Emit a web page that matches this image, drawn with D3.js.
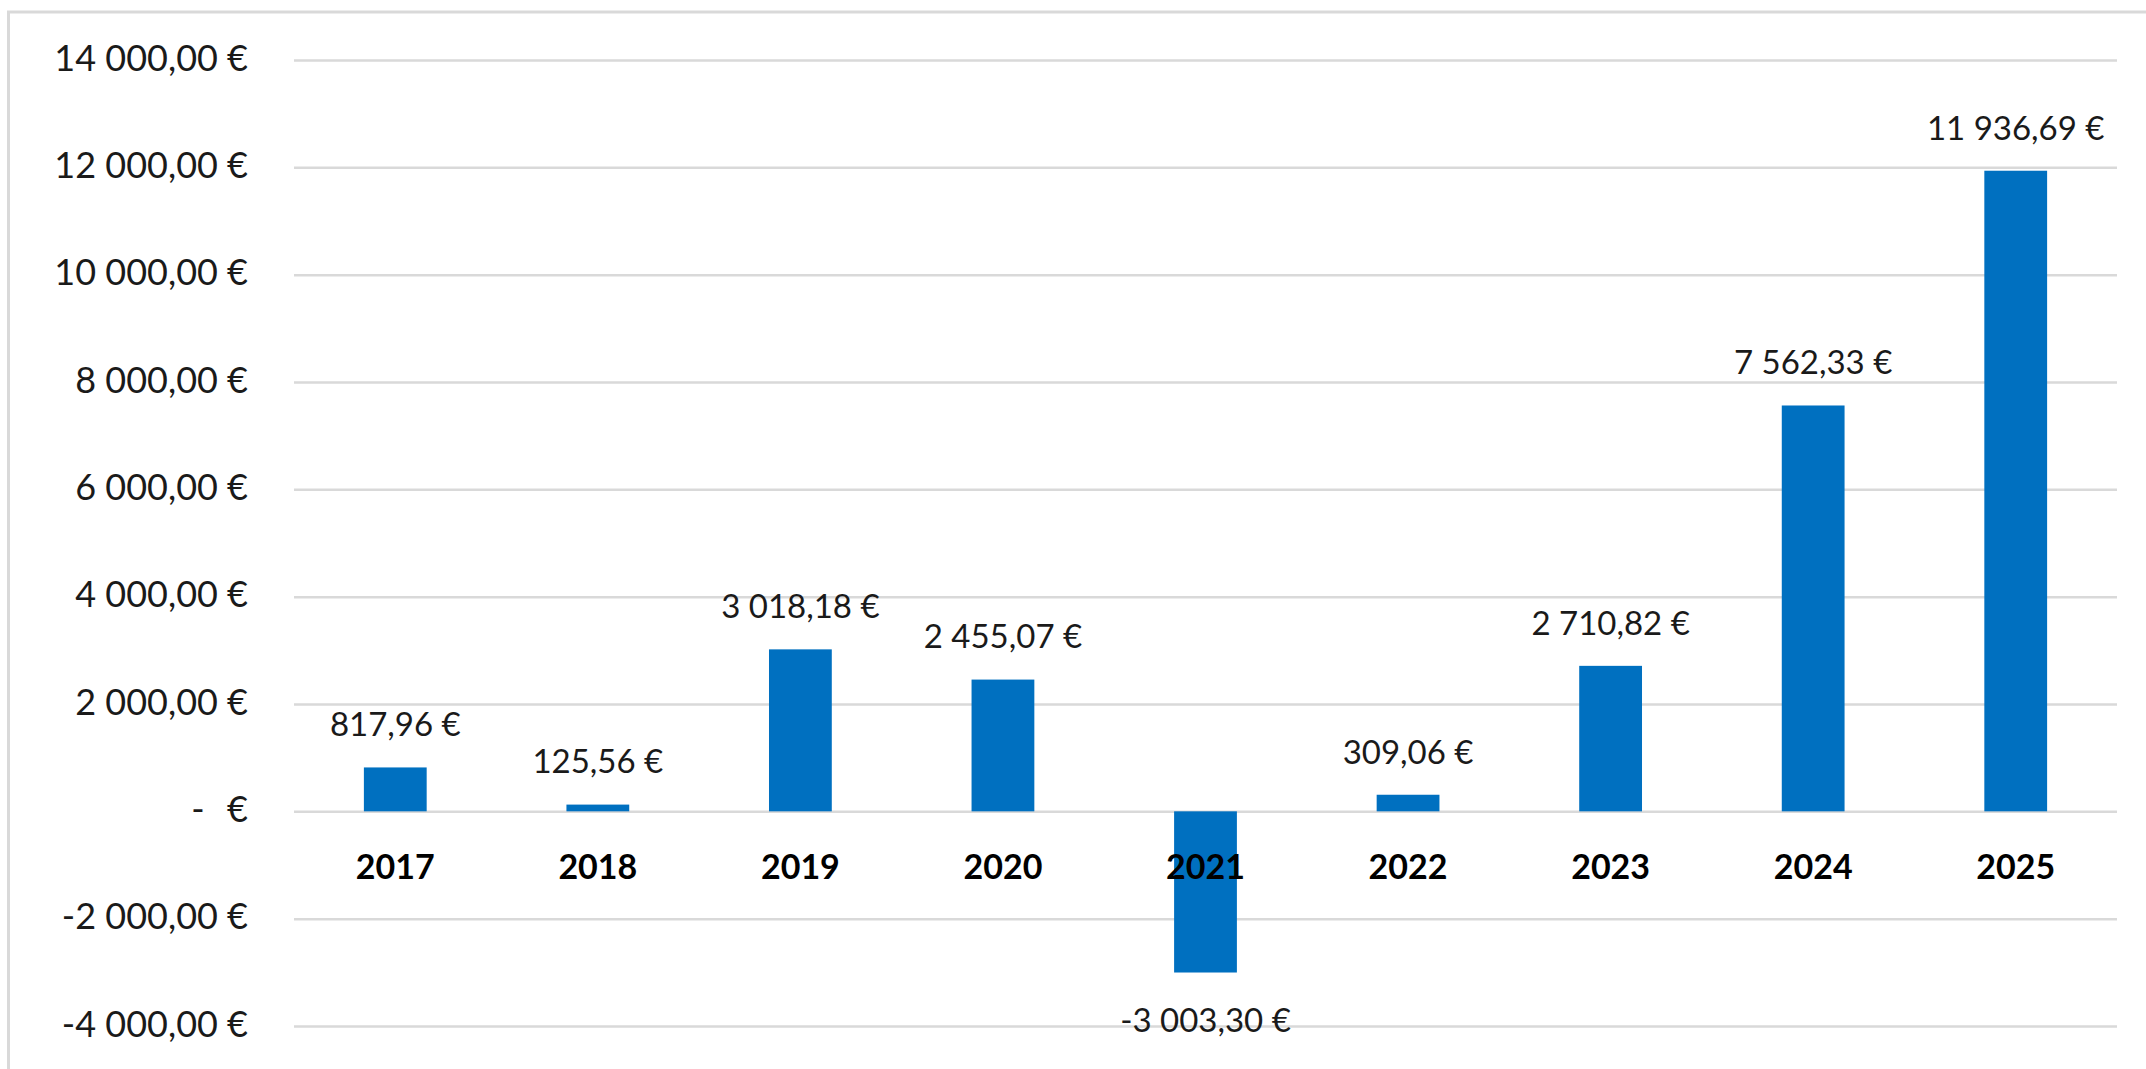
<!DOCTYPE html>
<html>
<head>
<meta charset="utf-8">
<script src="https://cdn.jsdelivr.net/npm/d3@7"></script>
<style>
  html, body { margin: 0; padding: 0; background: #fff; }
  svg { display: block; font-family: Lato, 'Open Sans', sans-serif; }
</style>
</head>
<body>
<div id="chart"></div>
<script>
// data
const years = ['2017', '2018', '2019', '2020', '2021', '2022', '2023', '2024', '2025'];
const values = [817.96, 125.56, 3018.18, 2455.07, -3003.30, 309.06, 2710.82, 7562.33, 11936.69];
const yTicks = [-4000, -2000, 0, 2000, 4000, 6000, 8000, 10000, 12000, 14000];

const width = 2146;
const height = 1069;
const margin = { top: 60, right: 29, bottom: 43, left: 294 };
const plotW = width - margin.left - margin.right;
const plotH = height - margin.top - margin.bottom;

const fr = d3.formatLocale({ decimal: ',', thousands: ' ', grouping: [3], currency: ['', ' €'] });
const fmt = fr.format(',.2f');
const euro = (v) => (v === 0 ? '-\u2002\u2009€' : fmt(v).replace('−', '-') + ' €');

const svg = d3
  .select('#chart')
  .append('svg')
  .attr('width', width)
  .attr('height', height);

svg.append('rect').attr('width', width).attr('height', height).attr('fill', '#fff');

// outer chart frame
svg
  .append('rect')
  .attr('x', 8.5)
  .attr('y', 12)
  .attr('width', width)
  .attr('height', height)
  .attr('fill', 'none')
  .attr('stroke', '#d9d9d9')
  .attr('stroke-width', 3);

const g = svg.append('g').attr('transform', `translate(${margin.left},${margin.top})`);

const x = d3.scaleBand().domain(years).range([0, plotW]).paddingInner(0.69).paddingOuter(0.345);
const y = d3.scaleLinear().domain([-4000, 14000]).range([plotH, 0]);

// gridlines + y labels
const yAxis = g
  .append('g')
  .call(d3.axisLeft(y).tickValues(yTicks).tickSize(-plotW).tickPadding(46).tickFormat(euro));
yAxis.select('.domain').remove();
yAxis.selectAll('line').attr('stroke', '#d9d9d9').attr('stroke-width', 2.5);
yAxis
  .selectAll('text')
  .attr('dy', '0.28em')
  .style('font-size', '36px')
  .style('font-family', 'Lato, sans-serif')
  .attr('fill', '#1a1a1a')
  .style('white-space', 'pre');

// bars
g.append('g')
  .selectAll('rect')
  .data(values)
  .join('rect')
  .attr('x', (d, i) => x(years[i]))
  .attr('y', (d) => y(Math.max(d, 0)))
  .attr('width', x.bandwidth())
  .attr('height', (d) => Math.abs(y(d) - y(0)))
  .attr('fill', '#0070c0');

// year labels, drawn over the bars
const xAxis = g
  .append('g')
  .attr('transform', `translate(0,${y(0)})`)
  .call(d3.axisBottom(x).tickSize(0));
xAxis.select('.domain').remove();
xAxis
  .selectAll('text')
  .attr('y', 55)
  .attr('dy', '0.36em')
  .style('font-size', '34px')
  .style('font-weight', 'bold')
  .style('font-family', 'Lato, sans-serif')
  .attr('fill', '#000');

// value labels
g.append('g')
  .selectAll('text')
  .data(values)
  .join('text')
  .attr('x', (d, i) => x(years[i]) + x.bandwidth() / 2)
  .attr('y', (d) => (d >= 0 ? y(d) - 43 : y(d) + 48))
  .attr('dy', '0.36em')
  .attr('text-anchor', 'middle')
  .style('font-size', '33px')
  .attr('fill', '#1a1a1a')
  .text((d) => euro(d));
</script>
</body>
</html>
